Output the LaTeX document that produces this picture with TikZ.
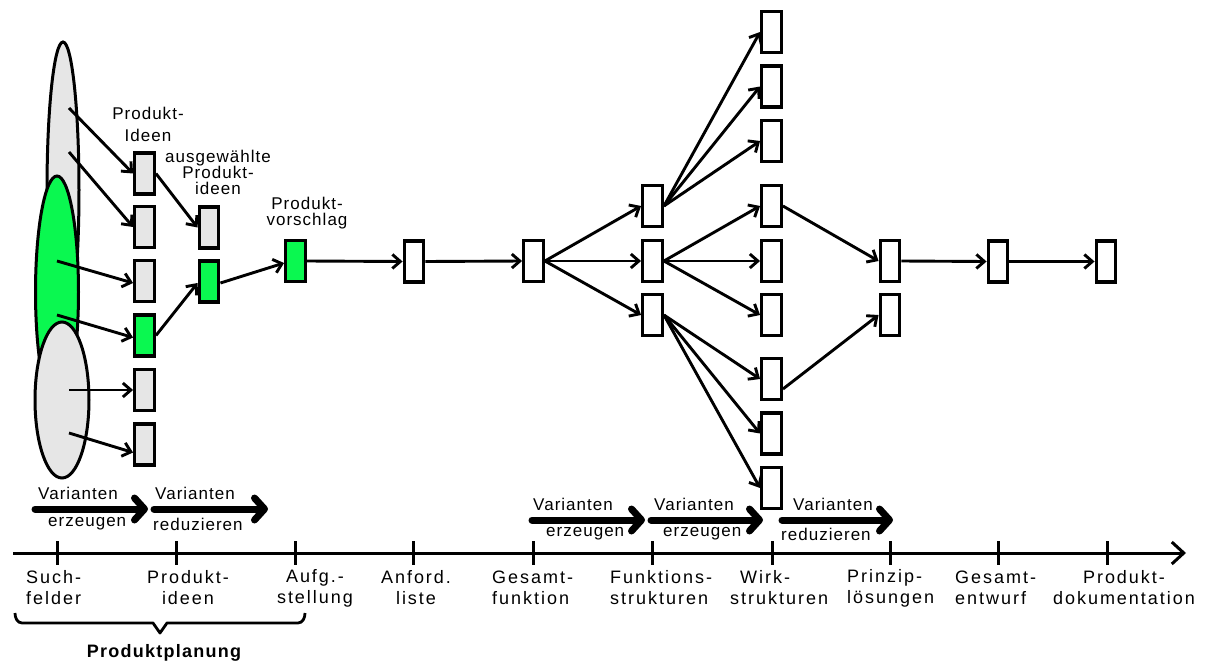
\documentclass[tikz,border=0pt]{standalone}
\usepackage{fontspec}
\setmainfont{Liberation Sans}
\newfontfamily\axisfont[LetterSpace=11]{Liberation Sans}
\newfontfamily\notefont[LetterSpace=6]{Liberation Sans}
\newfontfamily\headfont[LetterSpace=7]{Liberation Sans}
\usetikzlibrary{arrows.meta}

\definecolor{ideagreen}{RGB}{10,248,80}
\definecolor{ideagrey}{RGB}{230,230,230}

\begin{document}
\begin{tikzpicture}[x=1pt,y=-1pt,
  box/.style={draw,line width=3.4pt,minimum width=19.5pt,minimum height=41pt,inner sep=0pt,fill=white},
  greybox/.style={box,fill=ideagrey},
  greenbox/.style={box,fill=ideagreen},
  link/.style={line width=2.9pt,-{Straight Barb[length=8pt,width=14pt]}},
  field/.style={line width=3pt},
  phase/.style={line width=7pt,line cap=round,-{Straight Barb[length=10pt,width=22pt,round]}},
  axislabel/.style={font=\axisfont\fontsize{18}{21}\selectfont,inner sep=0pt},
  note/.style={font=\notefont\fontsize{17}{16}\selectfont,inner sep=0pt},
  bold/.style={font=\headfont\bfseries\fontsize{18}{21}\selectfont,inner sep=0pt}
]
\useasboundingbox (0,0) rectangle (1211,664);

% search fields
\draw[field,fill=ideagrey] (63,190) ellipse [x radius=16,y radius=148];
\draw[field,fill=ideagreen] (57,292) ellipse [x radius=21.5,y radius=116];
\draw[field,fill=ideagrey] (62,400) ellipse [x radius=27,y radius=78];

\coordinate (s1) at (69,108);
\coordinate (s2) at (69,152);
\coordinate (s3) at (57,261);
\coordinate (s4) at (57,315);
\coordinate (s5) at (69,390);
\coordinate (s6) at (69,433);

% product ideas
\node[greybox]  (b1) at (144.5,173.5) {};
\node[greybox]  (b2) at (144.5,227) {};
\node[greybox]  (b3) at (144.5,281) {};
\node[greenbox] (b4) at (144.5,335.5) {};
\node[greybox]  (b5) at (144.5,390) {};
\node[greybox]  (b6) at (144.5,444.5) {};

% selected ideas and proposal
\node[greybox]  (a1) at (209,227.5) {};
\node[greenbox] (a2) at (209,281.5) {};
\node[greenbox] (pv) at (295.5,261) {};

\node[box] (anf) at (414,261.5) {};
\node[box] (gf)  at (533.5,261) {};

% function structures
\node[box] (f1) at (652.5,206) {};
\node[box] (f2) at (652.5,261) {};
\node[box] (f3) at (652.5,315) {};

% working structures
\node[box] (w1) at (771.5,32) {};
\node[box] (w2) at (771.5,86.5) {};
\node[box] (w3) at (771.5,141) {};
\node[box] (w4) at (771.5,206) {};
\node[box] (w5) at (771.5,261) {};
\node[box] (w6) at (771.5,315) {};
\node[box] (w7) at (771.5,379) {};
\node[box] (w8) at (771.5,433.5) {};
\node[box] (w9) at (771.5,488) {};

% principle solutions, layout, documentation
\node[box] (p1) at (890,261) {};
\node[box] (p2) at (890,315) {};
\node[box] (ge) at (998,261.5) {};
\node[box] (pd) at (1106,261.5) {};

% connectors
\draw[link] (s1) -- (b1.west);
\draw[link] (s2) -- (b2.west);
\draw[link] (s3) -- ([yshift=-2pt]b3.west);
\draw[link] (s4) -- ([yshift=-2pt]b4.west);
\draw[link] (s5) -- (b5.west);
\draw[link] (s6) -- ([yshift=-8pt]b6.west);
\draw[link] (b1.east) -- (a1.west);
\draw[link] (b4.east) -- ([yshift=-1.5pt]a2.west);
\draw[link] ([yshift=-1.5pt]a2.east) -- ([yshift=-2pt]pv.west);
\draw[link] (pv.east) -- (anf.west);
\draw[link] (anf.east) -- (gf.west);
\foreach \t in {f1,f2,f3} \draw[link] (gf.east) -- (\t.west);
\foreach \t in {w1,w2,w3} \draw[link] (f1.east) -- (\t.west);
\foreach \t in {w4,w5,w6} \draw[link] (f2.east) -- (\t.west);
\foreach \t in {w7,w8,w9} \draw[link] (f3.east) -- (\t.west);
\draw[link] (w4.east) -- (p1.west);
\draw[link] ([yshift=-10pt]w7.east) -- (p2.west);
\draw[link] (p1.east) -- (ge.west);
\draw[link] (ge.east) -- (pd.west);

% labels above the boxes
\node[note,align=center,font=\notefont\fontsize{17}{22}\selectfont] (tpi) at (148,124) {Produkt-\\Ideen};
\node[note,align=center] (tai) at (218,172) {ausgewählte\\Produkt-\\ideen};
\node[note,align=center] (tpv) at (307,213) {Produkt-\\vorschlag};

% variant arrows
\coordinate (v1s) at (35,509);  \coordinate (v1e) at (148,509);
\coordinate (v2s) at (154,509); \coordinate (v2e) at (268,509);
\coordinate (v3s) at (532,520); \coordinate (v3e) at (645,520);
\coordinate (v4s) at (651,520); \coordinate (v4e) at (763,520);
\coordinate (v5s) at (782,520); \coordinate (v5e) at (893,520);
\draw[phase] (v1s) -- (v1e);
\draw[phase] (v2s) -- (v2e);
\draw[phase] (v3s) -- (v3e);
\draw[phase] (v4s) -- (v4e);
\draw[phase] (v5s) -- (v5e);
\node[note,anchor=west] (v1a) at (38,493) {Varianten};
\node[note,anchor=west] (v1b) at (48,524) {erzeugen};
\node[note,anchor=west] (v2a) at (155,493) {Varianten};
\node[note,anchor=west] (v2b) at (153,524) {reduzieren};
\node[note,anchor=west] (v3a) at (533,504) {Varianten};
\node[note,anchor=west] (v3b) at (546,534) {erzeugen};
\node[note,anchor=west] (v4a) at (654,504) {Varianten};
\node[note,anchor=west] (v4b) at (663,534) {erzeugen};
\node[note,anchor=west] (v5a) at (793,504) {Varianten};
\node[note,anchor=west] (v5b) at (781,534) {reduzieren};

% time axis
\coordinate (ax0) at (13,553);
\coordinate (ax1) at (1186,553);
\draw[line width=3pt,-{Straight Barb[length=12pt,width=22pt]}] (ax0) -- (ax1);
\foreach \x in {57,176,295,413,533,652,772,890,998,1107}
  \draw[line width=3pt] (\x,541) -- (\x,565);

\node[axislabel,anchor=west,align=left] (lsu) at (26,588) {Such-\\felder};
\node[axislabel,align=center] (lpi) at (188,588) {Produkt-\\ideen};
\node[axislabel,align=center] (lau) at (315,588) {Aufg.-\\stellung};
\node[axislabel,align=center] (lan) at (416,588) {Anford.\\liste};
\node[axislabel,anchor=west,align=left] (lgf) at (492,588) {Gesamt-\\funktion};
\node[axislabel,anchor=west,align=left] (lfs) at (610,588) {Funktions-\\strukturen};
\node[axislabel,anchor=west,align=left] (lws) at (730,588) {\hspace*{10pt}Wirk-\\strukturen};
\node[axislabel,anchor=west,align=left] (lpl) at (847,588) {Prinzip-\\lösungen};
\node[axislabel,anchor=west,align=left] (lge) at (955,588) {Gesamt-\\entwurf};
\node[axislabel,align=center] (lpd) at (1124,588) {Produkt-\\dokumentation};

% planning phase brace
\draw[line width=2.8pt,line join=round] (15,613) to[out=-90,in=180] (22,623)
  -- (153,623) -- (160,633) -- (167,623) -- (298,623) to[out=0,in=-90] (305,613);
\node[bold] (lpp) at (164,653) {Produktplanung};
\end{tikzpicture}
\end{document}
